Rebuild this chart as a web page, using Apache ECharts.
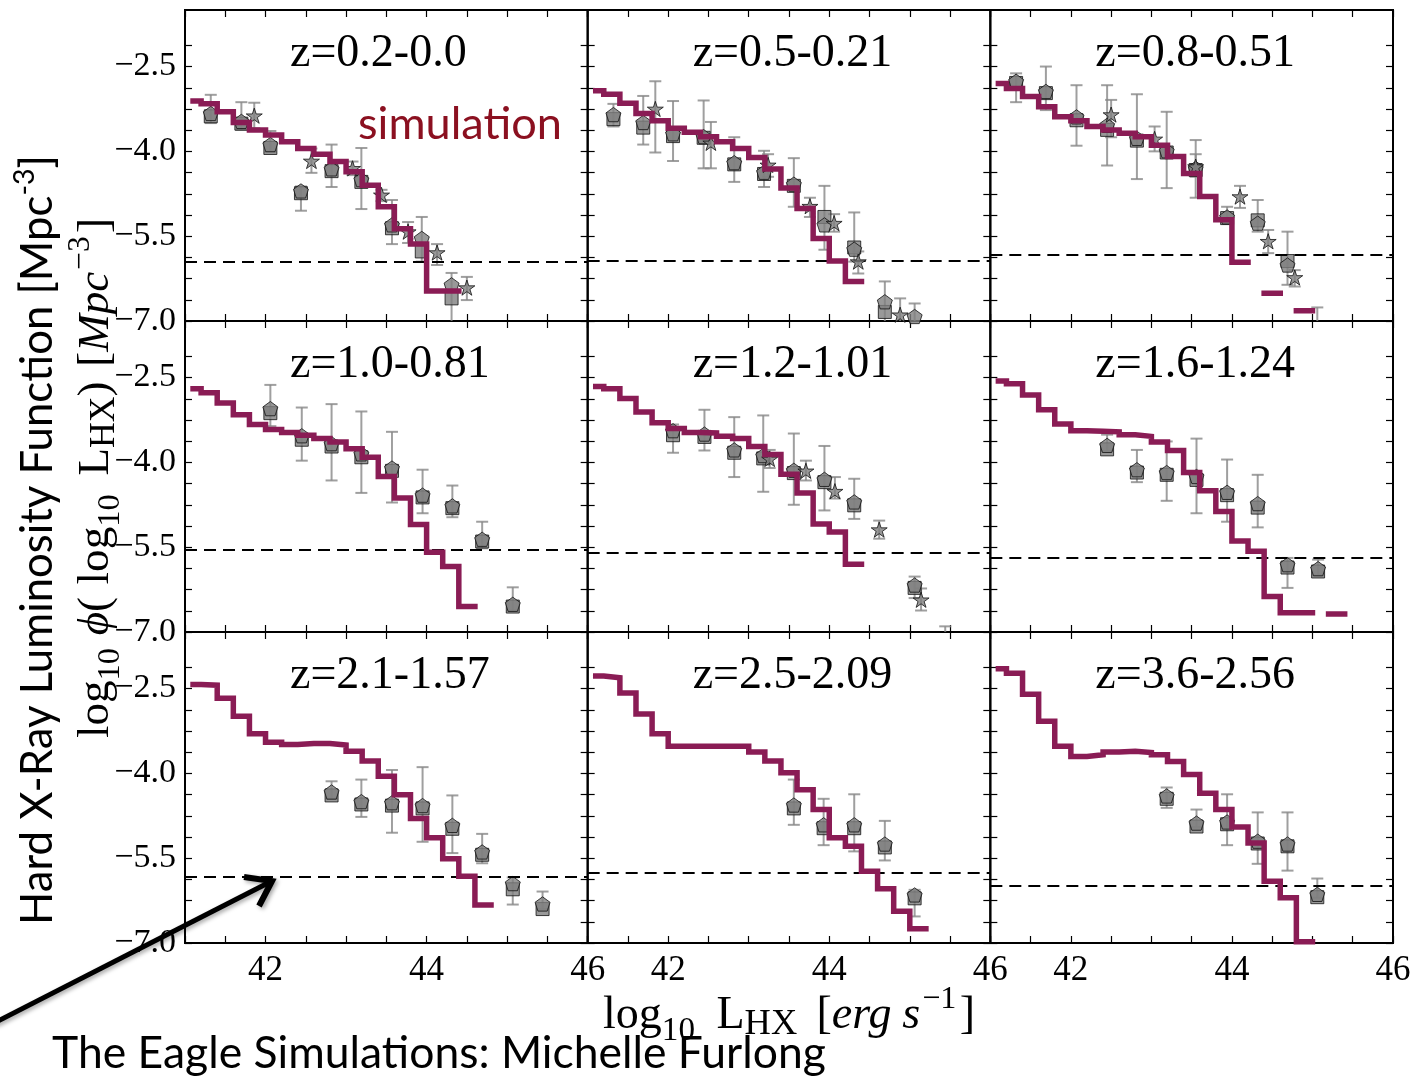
<!DOCTYPE html>
<html>
<head>
<meta charset="utf-8">
<title>Hard X-ray luminosity function</title>
<script src="https://cdn.jsdelivr.net/npm/echarts@6.0.0/dist/echarts.min.js"></script>
<style>
  html, body { margin: 0; padding: 0; background: #fff; }
  #chart { width: 1415px; height: 1077px; }
</style>
</head>
<body>
<div id="chart"></div>
<script>
// ---------------------------------------------------------------------------
// Data: log10 phi per 0.2 dex luminosity bin (simulation) and the
// observational compilations (squares, pentagons, stars) per redshift slice.
// ---------------------------------------------------------------------------
const binEdges = [41.1, 41.2, 41.4, 41.6, 41.8, 42.0, 42.2, 42.4, 42.6, 42.8, 43.0,
                  43.2, 43.4, 43.6, 43.8, 44.0, 44.2, 44.4, 44.6, 44.8, 45.0, 45.2, 45.4];

const panelTitles = ['z=0.2-0.0', 'z=0.5-0.21', 'z=0.8-0.51',
                     'z=1.0-0.81', 'z=1.2-1.01', 'z=1.6-1.24',
                     'z=2.1-1.57', 'z=2.5-2.09', 'z=3.6-2.56'];

// flux-limit (dashed) level of each slice
const fluxLimit = [-5.95, -5.93, -5.82, -5.55, -5.59, -5.68, -5.82, -5.75, -5.98];

const xTickLabels = [42, 44, 46];
const yTickLabels = [-7.0, -5.5, -4.0, -2.5];
const yTickValues = [-7.0, -6.625, -6.25, -5.875, -5.5, -5.125, -4.75, -4.375,
                     -4.0, -3.625, -3.25, -2.875, -2.5, -2.125];

// simulated luminosity functions (null = empty bin)
const sim1 = [-3.11, -3.16, -3.30, -3.49, -3.62, -3.71, -3.83, -3.95, -4.05, -4.18, -4.36, -4.60, -4.98, -5.37, -5.64, -6.47, -6.47];
const sim2 = [-2.93, -2.99, -3.15, -3.33, -3.46, -3.59, -3.66, -3.74, -3.83, -3.95, -4.11, -4.31, -4.65, -5.01, -5.54, -5.94, -6.30];
const sim3 = [-2.80, -2.89, -3.03, -3.21, -3.39, -3.46, -3.56, -3.62, -3.68, -3.74, -3.89, -4.09, -4.39, -4.80, -5.21, -5.96, null, -6.51, null, -6.82];
const sim4 = [-2.70, -2.77, -2.95, -3.16, -3.33, -3.42, -3.47, -3.52, -3.58, -3.64, -3.76, -3.91, -4.25, -4.63, -5.10, -5.59, -5.84, -6.55];
const sim5 = [-2.66, -2.70, -2.87, -3.11, -3.30, -3.40, -3.47, -3.48, -3.54, -3.58, -3.72, -3.86, -4.21, -4.54, -5.09, -5.23, -5.80];
const sim6 = [-2.56, -2.61, -2.81, -3.07, -3.32, -3.44, -3.45, -3.46, -3.51, -3.54, -3.64, -3.79, -4.18, -4.50, -4.87, -5.39, -5.57, -6.37, -6.66, -6.66, null, -6.68];
const sim7 = [-2.43, -2.44, -2.67, -2.99, -3.30, -3.45, -3.49, -3.47, -3.47, -3.50, -3.61, -3.78, -4.05, -4.38, -4.80, -5.14, -5.51, -5.82, -6.33];
const sim8 = [-2.28, -2.31, -2.58, -2.95, -3.30, -3.52, -3.52, -3.52, -3.52, -3.52, -3.62, -3.78, -3.99, -4.29, -4.64, -5.14, -5.29, -5.73, -6.04, -6.44, -6.75];
const sim9 = [-2.15, -2.23, -2.60, -3.08, -3.52, -3.70, -3.67, -3.62, -3.61, -3.63, -3.67, -3.79, -4.02, -4.35, -4.64, -4.95, -5.23, -5.91, -6.20, -6.98];

// observations: squares and pentagons share luminosity and error range
const obs1X        = [41.32, 41.70, 42.06, 42.44, 42.82, 43.19, 43.57, 43.94, 44.31];
const obs1Square   = [-3.38, -3.51, -3.94, -4.74, -4.35, -4.54, -5.36, -5.77, -6.60];
const obs1Pentagon = [-3.33, -3.47, -3.88, -4.70, -4.31, -4.50, -5.30, -5.54, -6.36];
const obs1Low      = [-3.50, -3.62, -4.01, -5.05, -4.63, -5.02, -5.64, -5.95, -7.20];
const obs1High     = [-3.00, -3.13, -3.64, -4.62, -3.88, -3.94, -4.86, -5.16, -6.15];
const star1X    = [41.86, 42.57, 43.08, 43.44, 43.77, 44.13, 44.50];
const star1Y    = [-3.37, -4.17, -4.30, -4.77, -5.42, -5.79, -6.41];
const star1Low  = [-3.59, -4.38, -4.42, -4.88, -5.62, -6.01, -6.63];
const star1High = [-3.14, -3.95, -4.18, -4.68, -5.25, -5.64, -6.22];

const obs2X        = [41.32, 41.69, 42.06, 42.44, 42.82, 43.19, 43.56, 43.94, 44.31, 44.69, 45.06];
const obs2Square   = [-3.43, -3.58, -3.73, -3.76, -4.23, -4.40, -4.61, -5.16, -5.70, -6.84, null];
const obs2Pentagon = [-3.35, -3.49, -3.69, -3.74, -4.20, -4.37, -4.58, -5.30, -5.73, -6.66, -6.92];
const obs2Low      = [-3.56, -3.88, -4.17, -4.30, -4.54, -4.63, -4.98, -5.74, -5.95, -7.10, -7.10];
const obs2High     = [-3.16, -3.02, -3.11, -3.10, -3.75, -3.99, -4.12, -4.61, -5.08, -6.30, -6.69];
const star2X    = [41.84, 42.53, 43.24, 43.76, 44.06, 44.36, 44.88];
const star2Y    = [-3.25, -3.85, -4.24, -4.97, -5.27, -5.95, -6.89];
const star2Low  = [-4.02, -4.30, -4.45, -5.16, -5.42, -6.16, -7.10];
const star2High = [-2.76, -3.48, -4.05, -4.82, -5.11, -5.77, -6.60];

const obs3X        = [41.32, 41.69, 42.07, 42.45, 42.82, 43.19, 43.55, 43.94, 44.32, 44.69, 45.06];
const obs3Square   = [-2.79, -2.97, -3.45, -3.62, -3.81, -4.02, -4.33, -5.18, -5.22, -5.94, null];
const obs3Pentagon = [-2.76, -2.94, -3.39, -3.54, -3.77, -3.99, -4.30, -5.16, -5.27, -6.01, -7.02];
const obs3Low      = [-3.13, -3.27, -3.90, -4.25, -4.49, -4.65, -4.82, -5.25, -5.42, -6.36, -7.10];
const obs3High     = [-2.62, -2.50, -2.83, -2.83, -2.99, -3.30, -3.80, -4.98, -4.86, -5.42, -6.76];
const star3X    = [42.50, 43.04, 43.55, 44.10, 44.45, 44.78];
const star3Y    = [-3.35, -3.78, -4.27, -4.80, -5.59, -6.23];
const star3Low  = [-3.75, -4.00, -4.45, -5.00, -5.80, -6.39];
const star3High = [-3.09, -3.56, -4.05, -4.61, -5.39, -6.10];

const obs4X        = [42.06, 42.45, 42.82, 43.19, 43.57, 43.95, 44.32, 44.69, 45.07];
const obs4Square   = [-3.13, -3.60, -3.72, -3.91, -4.15, -4.62, -4.81, -5.40, -6.55];
const obs4Pentagon = [-3.05, -3.53, -3.67, -3.85, -4.10, -4.58, -4.77, -5.36, -6.51];
const obs4Low      = [-3.36, -3.97, -4.32, -4.54, -4.71, -4.90, -4.97, -5.52, -6.62];
const obs4High     = [-2.63, -3.03, -2.97, -3.10, -3.46, -4.13, -4.41, -5.05, -6.21];

const obs5X        = [42.06, 42.45, 42.82, 43.18, 43.56, 43.94, 44.31, 45.06];
const obs5Square   = [-3.52, -3.55, -3.83, -3.93, -4.19, -4.35, -4.76, -6.22];
const obs5Pentagon = [-3.44, -3.50, -3.78, -3.88, -4.14, -4.30, -4.70, -6.17];
const obs5Low      = [-3.83, -3.79, -4.26, -4.52, -4.75, -4.85, -5.00, -6.40];
const obs5High     = [-3.33, -3.07, -3.20, -3.17, -3.49, -3.71, -4.29, -6.02];
const star5X    = [43.26, 43.71, 44.07, 44.62, 45.14, 45.44];
const star5Y    = [-3.94, -4.15, -4.51, -5.19, -6.43, -7.15];
const star5Low  = [-4.10, -4.32, -4.64, -5.35, -6.62, -7.30];
const star5High = [-3.78, -3.97, -4.26, -5.03, -6.23, -6.90];

const obs6X        = [42.45, 42.82, 43.19, 43.56, 43.94, 44.32, 44.69, 45.07];
const obs6Square   = [-3.77, -4.18, -4.22, -4.31, -4.58, -4.80, -5.86, -5.93];
const obs6Pentagon = [-3.70, -4.13, -4.18, -4.25, -4.53, -4.73, -5.81, -5.88];
const obs6Low      = [-3.80, -4.35, -4.68, -4.90, -5.05, -5.15, -6.22, -6.00];
const obs6High     = [-3.51, -3.78, -3.63, -3.58, -3.95, -4.22, -5.69, -5.72];

const obs7X        = [42.82, 43.19, 43.57, 43.95, 44.32, 44.69, 45.07, 45.44];
const obs7Square   = [-4.39, -4.55, -4.57, -4.62, -4.98, -5.44, -6.05, -6.40];
const obs7Pentagon = [-4.33, -4.50, -4.52, -4.57, -4.92, -5.39, -5.95, -6.31];
const obs7Low      = [-4.45, -4.77, -5.05, -5.21, -5.41, -5.59, -6.32, -6.40];
const obs7High     = [-4.14, -4.11, -3.94, -3.89, -4.39, -5.07, -5.84, -6.09];

const obs8X        = [43.56, 43.93, 44.31, 44.69, 45.06];
const obs8Square   = [-4.62, -4.97, -4.97, -5.31, -6.21];
const obs8Pentagon = [-4.56, -4.91, -4.91, -5.25, -6.15];
const obs8Low      = [-4.91, -5.27, -5.38, -5.54, -6.53];
const obs8High     = [-4.11, -4.45, -4.37, -4.84, -6.06];

const obs9X        = [43.19, 43.56, 43.94, 44.32, 44.69, 45.06];
const obs9Square   = [-4.45, -4.94, -4.90, -5.24, -5.29, -6.19];
const obs9Pentagon = [-4.40, -4.88, -4.86, -5.20, -5.25, -6.14];
const obs9Low      = [-4.61, -4.95, -5.27, -5.60, -5.72, -6.20];
const obs9High     = [-4.25, -4.64, -4.37, -4.69, -4.69, -5.86];

const noStars = { x: [], y: [], low: [], high: [] };

const panels = [
  { sim: sim1, obs: { x: obs1X, sq: obs1Square, pt: obs1Pentagon, low: obs1Low, high: obs1High },
    stars: { x: star1X, y: star1Y, low: star1Low, high: star1High } },
  { sim: sim2, obs: { x: obs2X, sq: obs2Square, pt: obs2Pentagon, low: obs2Low, high: obs2High },
    stars: { x: star2X, y: star2Y, low: star2Low, high: star2High } },
  { sim: sim3, obs: { x: obs3X, sq: obs3Square, pt: obs3Pentagon, low: obs3Low, high: obs3High },
    stars: { x: star3X, y: star3Y, low: star3Low, high: star3High } },
  { sim: sim4, obs: { x: obs4X, sq: obs4Square, pt: obs4Pentagon, low: obs4Low, high: obs4High }, stars: noStars },
  { sim: sim5, obs: { x: obs5X, sq: obs5Square, pt: obs5Pentagon, low: obs5Low, high: obs5High },
    stars: { x: star5X, y: star5Y, low: star5Low, high: star5High } },
  { sim: sim6, obs: { x: obs6X, sq: obs6Square, pt: obs6Pentagon, low: obs6Low, high: obs6High }, stars: noStars },
  { sim: sim7, obs: { x: obs7X, sq: obs7Square, pt: obs7Pentagon, low: obs7Low, high: obs7High }, stars: noStars },
  { sim: sim8, obs: { x: obs8X, sq: obs8Square, pt: obs8Pentagon, low: obs8Low, high: obs8High }, stars: noStars },
  { sim: sim9, obs: { x: obs9X, sq: obs9Square, pt: obs9Pentagon, low: obs9Low, high: obs9High }, stars: noStars }
];

// ---------------------------------------------------------------------------
// Styling and layout
// ---------------------------------------------------------------------------
const SERIF = '"Liberation Serif", "DejaVu Serif", serif';
const SANS = 'Lato, "Open Sans", "Noto Sans", sans-serif';
const SIM_COLOR = '#8a1c55';
const MARKER_FILL = '#808080';
const MARKER_EDGE = '#111111';
const ERR_COLOR = 'rgba(135,135,135,0.8)';
const PENTAGON = 'path://M0,-100L95.1,-30.9L58.8,80.9L-58.8,80.9L-95.1,-30.9Z';
const STAR = 'path://M0,-100L22.45,-30.9L95.1,-30.9L36.33,11.8L58.78,80.9L0,38.2L-58.78,80.9L-36.33,11.8L-95.1,-30.9L-22.45,-30.9Z';

const FRAME_LEFT = 185, FRAME_TOP = 10, PANEL_W = 1208 / 3, PANEL_H = 311;

// histogram outline: horizontal run per bin, breaks across empty bins
function stepOutline(values) {
  const pts = [];
  let open = false;
  values.forEach((v, i) => {
    if (v === null) {
      if (open) pts.push([binEdges[i], '-']);
      open = false;
      return;
    }
    pts.push([binEdges[i], v], [binEdges[i + 1], v]);
    open = true;
  });
  return pts;
}

function pairs(xs, ys) {
  return xs.map((x, k) => [x, ys[k]]).filter(d => d[1] !== null);
}

function renderErrorBar(params, api) {
  const x = api.value(0);
  const lo = api.coord([x, api.value(1)]);
  const hi = api.coord([x, api.value(2)]);
  const cap = 6;
  const style = { stroke: ERR_COLOR, lineWidth: 2, fill: null };
  return {
    type: 'group',
    children: [
      { type: 'line', shape: { x1: lo[0], y1: lo[1], x2: hi[0], y2: hi[1] }, style },
      { type: 'line', shape: { x1: lo[0] - cap, y1: lo[1], x2: lo[0] + cap, y2: lo[1] }, style },
      { type: 'line', shape: { x1: hi[0] - cap, y1: hi[1], x2: hi[0] + cap, y2: hi[1] }, style }
    ]
  };
}

const measureCtx = document.createElement('canvas').getContext('2d');
function textWidth(text, font) { measureCtx.font = font; return measureCtx.measureText(text).width; }
function pieceFont(p, family, k) {
  return (p.italic ? 'italic ' : '') + (p.size * k).toFixed(2) + 'px ' + family;
}
function layoutPieces(pieces, family, k) {
  let w = 0;
  const placed = pieces.map(p => {
    w += (p.gap || 0) * k;
    const font = pieceFont(p, family, k);
    const item = { x: w, font, p };
    w += textWidth(p.t, font);
    return item;
  });
  return { placed, width: w };
}
// a line of mixed-size text (sub/superscripts), centred on (cx, cy)
function formula(pieces, family, cx, cy, rotation, fill, fitWidth) {
  const k = fitWidth ? fitWidth / layoutPieces(pieces, family, 1).width : 1;
  const { placed, width } = layoutPieces(pieces, family, k);
  return {
    type: 'group', x: cx, y: cy, rotation: rotation || 0, silent: true,
    children: placed.map(it => ({
      type: 'text', x: it.x - width / 2, y: (it.p.dy || 0) * k,
      style: { text: it.p.t, font: it.font, fill,
               textAlign: 'left', align: 'left', textVerticalAlign: 'middle', verticalAlign: 'middle' }
    }))
  };
}

const fmtTick = v => (v < 0 ? '\u2212' : '') + Math.abs(v).toFixed(1);

const grids = [], xAxes = [], yAxes = [], series = [], graphics = [];

panels.forEach((p, i) => {
  const r = Math.floor(i / 3), c = i % 3;
  const left = FRAME_LEFT + c * PANEL_W, top = FRAME_TOP + r * PANEL_H;
  grids.push({ left, top, width: PANEL_W, height: PANEL_H, show: true,
               borderColor: '#000', borderWidth: 2, backgroundColor: 'transparent' });

  const tick = { show: true, inside: true, length: 7, lineStyle: { color: '#000', width: 1.2 } };
  const xBase = { gridIndex: i, type: 'value', min: 41, max: 46, interval: 0.5,
                  axisLine: { show: false }, axisTick: tick, splitLine: { show: false } };
  xAxes.push(Object.assign({}, xBase, {
    position: 'bottom',
    axisLabel: { show: r === 2, color: '#000', fontFamily: SERIF, fontSize: 35, margin: 10,
                 formatter: v => (xTickLabels.indexOf(v) >= 0 ? String(v) : '') }
  }));
  xAxes.push(Object.assign({}, xBase, { position: 'top', axisLabel: { show: false } }));

  const yBase = { gridIndex: i, type: 'value', min: -7, max: -1.5,
                  axisLine: { show: false }, splitLine: { show: false },
                  axisTick: Object.assign({}, tick, { customValues: yTickValues }) };
  yAxes.push(Object.assign({}, yBase, {
    position: 'left',
    axisLabel: { show: c === 0, customValues: yTickLabels, formatter: fmtTick,
                 color: '#000', fontFamily: SERIF, fontSize: 34, margin: 9 }
  }));
  yAxes.push(Object.assign({}, yBase, { position: 'right', axisLabel: { show: false } }));

  const xi = 2 * i, yi = 2 * i;
  const errs = p.obs.x.map((x, k) => [x, p.obs.low[k], p.obs.high[k]])
    .concat(p.stars.x.map((x, k) => [x, p.stars.low[k], p.stars.high[k]]));

  series.push({
    type: 'custom', xAxisIndex: xi, yAxisIndex: yi, z: 2, clip: true, silent: true,
    data: errs, encode: { x: 0, y: [1, 2] }, renderItem: renderErrorBar
  });
  series.push({
    type: 'scatter', xAxisIndex: xi, yAxisIndex: yi, z: 3, silent: true,
    symbol: 'rect', symbolSize: 13, data: pairs(p.obs.x, p.obs.sq),
    itemStyle: { color: MARKER_FILL, borderColor: MARKER_EDGE, borderWidth: 1 },
    markLine: {
      silent: true, symbol: ['none', 'none'], label: { show: false },
      lineStyle: { type: [12, 7], color: '#000', width: 2 },
      data: [{ yAxis: fluxLimit[i] }]
    }
  });
  series.push({
    type: 'scatter', xAxisIndex: xi, yAxisIndex: yi, z: 4, silent: true,
    symbol: PENTAGON, symbolKeepAspect: true, symbolSize: 15, data: pairs(p.obs.x, p.obs.pt),
    itemStyle: { color: MARKER_FILL, borderColor: MARKER_EDGE, borderWidth: 1 }
  });
  series.push({
    type: 'scatter', xAxisIndex: xi, yAxisIndex: yi, z: 5, silent: true,
    symbol: STAR, symbolKeepAspect: true, symbolSize: 16, data: pairs(p.stars.x, p.stars.y),
    itemStyle: { color: MARKER_FILL, borderColor: MARKER_EDGE, borderWidth: 1 }
  });
  series.push({
    type: 'line', xAxisIndex: xi, yAxisIndex: yi, z: 6, silent: true,
    data: stepOutline(p.sim), showSymbol: false, connectNulls: false, clip: true,
    lineStyle: { color: SIM_COLOR, width: 5.5, cap: 'square', join: 'miter' }
  });

  graphics.push({
    type: 'text', x: left + 105, y: top + 44, silent: true,
    style: { text: panelTitles[i], font: '46px ' + SERIF, fill: '#000',
             textAlign: 'left', align: 'left', textVerticalAlign: 'middle', verticalAlign: 'middle' }
  });
});

// axis titles (math style)
graphics.push(formula([
  { t: 'log', size: 43 }, { t: '10', size: 31, dy: 14 },
  { t: 'L', size: 43, gap: 20 }, { t: 'HX', size: 34, dy: 8 },
  { t: '[', size: 43, gap: 18 }, { t: 'erg', size: 43, italic: true },
  { t: 's', size: 43, italic: true, gap: 10 }, { t: '\u22121', size: 30, dy: -15, gap: 2 },
  { t: ']', size: 43, gap: 3 }
], SERIF, 789, 1016, 0, '#000', 372));

graphics.push(formula([
  { t: 'log', size: 43 }, { t: '10', size: 31, dy: 14 },
  { t: '\u03D5', size: 43, italic: true, gap: 12 }, { t: '(', size: 43 },
  { t: 'log', size: 43, gap: 12 }, { t: '10', size: 31, dy: 14 },
  { t: 'L', size: 43, gap: 18 }, { t: 'HX', size: 34, dy: 8 }, { t: ')', size: 43 },
  { t: '[', size: 43, gap: 14 }, { t: 'Mpc', size: 43, italic: true },
  { t: '\u22123', size: 30, dy: -15, gap: 2 }, { t: ']', size: 43, gap: 3 }
], SERIF, 96, 478, Math.PI / 2, '#000', 520));

// annotations
graphics.push(formula([
  { t: 'Hard X-Ray Luminosity Function [Mpc', size: 46 },
  { t: '-3', size: 30, dy: -14 }, { t: ']', size: 46 }
], SANS, 38, 540, Math.PI / 2, '#000', 770));

graphics.push(formula([{ t: 'simulation', size: 44 }], SANS, 460, 124, 0, '#8b1020', 204));

graphics.push(formula([{ t: 'The Eagle Simulations: Michelle Furlong', size: 44 }],
  SANS, 439, 1054, 0, '#000', 774));

const arrowStyle = {
  stroke: '#000', lineWidth: 5, fill: null, lineJoin: 'miter',
  shadowBlur: 4, shadowColor: 'rgba(0,0,0,0.35)', shadowOffsetX: 2, shadowOffsetY: 2
};
graphics.push({ type: 'polyline', silent: true, shape: { points: [[-6, 1023], [268, 883]] }, style: arrowStyle });
graphics.push({ type: 'polyline', silent: true, shape: { points: [[244, 877], [272, 881], [259, 906]] },
                style: Object.assign({}, arrowStyle, { lineWidth: 6 }) });

const chart = echarts.init(document.getElementById('chart'), null, { renderer: 'canvas', width: 1415, height: 1077 });
chart.setOption({
  animation: false,
  backgroundColor: '#fff',
  grid: grids,
  xAxis: xAxes,
  yAxis: yAxes,
  series: series,
  graphic: { elements: graphics }
});
</script>
</body>
</html>
